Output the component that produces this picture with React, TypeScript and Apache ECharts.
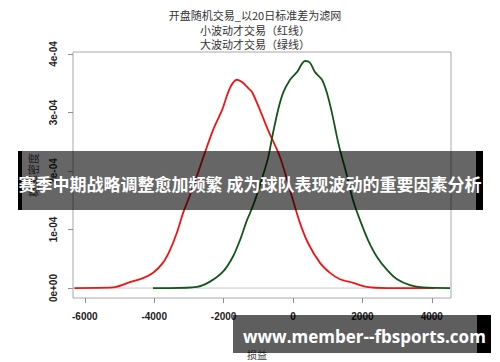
import React, { useEffect, useRef } from "react";
import * as echarts from "echarts";

const titleLines = [
  "开盘随机交易_以20日标准差为滤网",
  "小波动才交易（红线）",
  "大波动才交易（绿线）",
];
const yAxisName = "概率密度";
const xAxisName = "损益";
const bannerText = "赛季中期战略调整愈加频繁 成为球队表现波动的重要因素分析";
const siteText = "www.member--fbsports.com";

const xTicks = [-6000, -4000, -2000, 0, 2000, 4000];
const yTicks = [0, 1e-4, 2e-4, 3e-4, 4e-4];
const yTickLabels = ["0e+00", "1e-04", "2e-04", "3e-04", "4e-04"];
const zeroLineX = [-6340, 4553];

const redX = [
  -6300, -5190, -4700, -4320, -4030, -3750, -3545, -3350, -3170, -3025, -2800,
  -2594, -2305, -2046, -1816, -1614, -1470, -1297, -1182, -951, -720, -375, 0,
  202, 432, 778, 1066, 1355, 1730, 2133, 2710, 3170, 4080,
];
const redY = [
  0.0, 0.01e-4, 0.1e-4, 0.17e-4, 0.26e-4, 0.43e-4, 0.65e-4, 0.94e-4, 1.28e-4,
  1.5e-4, 1.86e-4, 2.22e-4, 2.7e-4, 3.04e-4, 3.42e-4, 3.56e-4, 3.52e-4,
  3.42e-4, 3.35e-4, 3.04e-4, 2.7e-4, 2.24e-4, 1.5e-4, 1.11e-4, 0.77e-4,
  0.43e-4, 0.26e-4, 0.15e-4, 0.09e-4, 0.02e-4, 0.0, 0.0, 0.0,
];

const greenX = [
  -4035, -3545, -2767, -2392, -2017, -1729, -1527, -1326, -1239, -1095, -900,
  -720, -576, -432, -288, -86, 115, 346, 490, 634, 836, 980, 1124, 1268, 1355,
  1550, 1730, 1931, 2162, 2421, 2710, 2998, 3372, 3747, 4525,
];
const greenY = [
  0.0, 0.0, 0.02e-4, 0.11e-4, 0.28e-4, 0.54e-4, 0.82e-4, 1.16e-4, 1.28e-4,
  1.5e-4, 1.86e-4, 2.22e-4, 2.65e-4, 3.04e-4, 3.33e-4, 3.56e-4, 3.69e-4,
  3.88e-4, 3.85e-4, 3.69e-4, 3.56e-4, 3.33e-4, 2.99e-4, 2.58e-4, 2.36e-4,
  1.93e-4, 1.5e-4, 1.16e-4, 0.82e-4, 0.53e-4, 0.31e-4, 0.15e-4, 0.05e-4,
  0.01e-4, 0.0,
];

const zip = (xs: number[], ys: number[]) => xs.map((x, i) => [x, ys[i]]);

export default function App() {
  const ref = useRef<HTMLDivElement>(null);
  useEffect(() => {
    if (!ref.current) return;
    const chart = echarts.init(ref.current, null, { renderer: "svg" });
    const titleFont = '"Noto Sans CJK SC", sans-serif';
    const tickFont = '"Liberation Sans", Arial, sans-serif';
    chart.setOption({
      animation: false,
      backgroundColor: "#ffffff",
      grid: {
        left: 73,
        top: 52,
        width: 378,
        height: 246,
        show: true,
        borderColor: "#a8a8a8",
        borderWidth: 1,
        backgroundColor: "transparent",
      },
      xAxis: {
        type: "value",
        min: -6340,
        max: 4553,
        axisLine: { show: false, onZero: false },
        splitLine: { show: false },
        axisTick: {
          show: true,
          customValues: xTicks,
          length: 5,
          lineStyle: { color: "#909090" },
        },
        axisLabel: {
          customValues: xTicks,
          margin: 13,
          fontSize: 10,
          fontWeight: "bold",
          fontFamily: tickFont,
          color: "#222",
          formatter: (v: number) => String(Math.round(v)),
        },
      },
      yAxis: {
        type: "value",
        min: -0.000017,
        max: 0.0004034,
        axisLine: { show: false, onZero: false },
        splitLine: { show: false },
        axisTick: {
          show: true,
          customValues: yTicks,
          length: 5,
          lineStyle: { color: "#909090" },
        },
        axisLabel: {
          customValues: yTicks,
          rotate: 90,
          margin: 15,
          fontSize: 10,
          fontWeight: "bold",
          fontFamily: tickFont,
          color: "#222",
          formatter: (v: number) => {
            const i = yTicks.findIndex((t) => Math.abs(t - v) < 1e-9);
            return i >= 0 ? yTickLabels[i] : "";
          },
        },
      },
      series: [
        {
          type: "line",
          data: zeroLineX.map((x) => [x, 0]),
          showSymbol: false,
          silent: true,
          lineStyle: { color: "#c8c8c8", width: 1 },
          z: 1,
        },
        {
          type: "line",
          data: zip(redX, redY),
          showSymbol: false,
          smooth: 0.3,
          lineStyle: { color: "#f01414", width: 1.8 },
          z: 3,
        },
        {
          type: "line",
          data: zip(greenX, greenY),
          showSymbol: false,
          smooth: 0.3,
          lineStyle: { color: "#12561a", width: 1.8 },
          z: 3,
        },
      ],
      graphic: [
        ...titleLines.map((t, i) => ({
          type: "text",
          x: 255,
          y: 15 + i * 14.5,
          z: 10,
          style: {
            text: t,
            fill: "#333",
            font: `11px ${titleFont}`,
            lineHeight: 12,
            textAlign: "center",
            textVerticalAlign: "middle",
          },
        })),
        {
          type: "text",
          x: 33,
          y: 175,
          rotation: Math.PI / 2,
          z: 10,
          style: {
            text: yAxisName,
            fill: "#444",
            font: `11px ${titleFont}`,
            textAlign: "center",
            textVerticalAlign: "middle",
          },
        },
        {
          type: "text",
          x: 257,
          y: 354,
          z: 10,
          style: {
            text: xAxisName,
            fill: "#444",
            font: `10px ${titleFont}`,
            lineHeight: 10,
            textAlign: "center",
            textVerticalAlign: "middle",
          },
        },
        {
          type: "rect",
          z: 100,
          shape: { x: 18, y: 151, width: 465, height: 59 },
          style: { fill: "rgba(0,0,0,0.6)" },
        },
        {
          type: "rect",
          z: 101,
          shape: { x: 18, y: 151, width: 4, height: 59 },
          style: { fill: "#000" },
        },
        {
          type: "rect",
          z: 101,
          shape: { x: 476, y: 151, width: 7, height: 59 },
          style: { fill: "#000" },
        },
        {
          type: "text",
          x: 250,
          y: 183,
          z: 102,
          style: {
            text: bannerText,
            fill: "#fff",
            font: `bold 17px ${titleFont}`,
            textAlign: "center",
            textVerticalAlign: "middle",
          },
        },
        {
          type: "rect",
          z: 100,
          shape: { x: 233, y: 315, width: 258, height: 38 },
          style: { fill: "rgba(0,0,0,0.63)" },
        },
        {
          type: "rect",
          z: 101,
          shape: { x: 477, y: 315, width: 14, height: 38 },
          style: { fill: "#000" },
        },
        {
          type: "text",
          x: 243,
          y: 336,
          z: 102,
          style: {
            text: siteText,
            fill: "#fff",
            font: `bold 17px "Open Sans", "Noto Sans", sans-serif`,
            lineHeight: 17,
            textAlign: "left",
            textVerticalAlign: "middle",
          },
        },
      ],
    });
    return () => chart.dispose();
  }, []);
  return (
    <div
      ref={ref}
      style={{ position: "absolute", left: 0, top: 0, width: 500, height: 362 }}
    />
  );
}
